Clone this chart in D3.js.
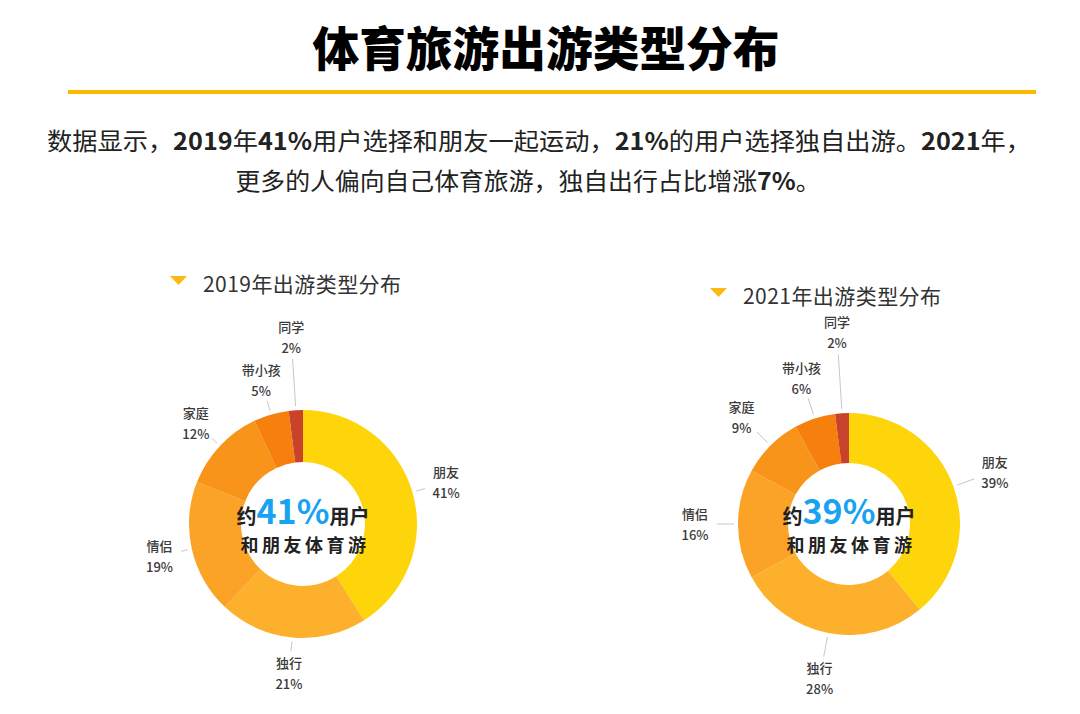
<!DOCTYPE html>
<html><head><meta charset="utf-8">
<script src="https://cdn.jsdelivr.net/npm/d3@7"></script>
<style>
html,body{margin:0;padding:0;background:#fff;}
svg{display:block;font-family:"Noto Sans CJK SC","Noto Sans",sans-serif;}
</style></head>
<body>
<svg id="chart" width="1080" height="714"></svg>
<script>
const categories = ["朋友","独行","情侣","家庭","带小孩","同学"];
const values2019 = [41,21,19,12,5,2];
const values2021 = [39,28,16,9,6,2];
const colors = ["#FED40B","#FDB02C","#FBA326","#F8941A","#F67F0E","#C8432A"];
const chartTitles = ["2019年出游类型分布","2021年出游类型分布"];
const centerPct = ["41%","39%"];

const svg = d3.select("#chart");

// Title
svg.append("text").attr("x",546).attr("y",66).attr("text-anchor","middle")
  .attr("font-size",47).attr("font-weight",900).attr("fill","#000")
  .attr("textLength",467).attr("lengthAdjust","spacingAndGlyphs")
  .text("体育旅游出游类型分布");
svg.append("rect").attr("x",68).attr("y",90).attr("width",968).attr("height",4).attr("fill","#FBBA00");

// Subtitle
function richLine(y, parts, len, x){
  const t = svg.append("text").attr("x",x).attr("y",y).attr("text-anchor","middle")
    .attr("font-size",24).attr("fill","#222");
  if(len) t.attr("textLength",len).attr("lengthAdjust","spacingAndGlyphs");
  parts.forEach(p=>{
    t.append("tspan").attr("font-weight",p[1]?700:400).text(p[0]);
  });
}
richLine(150,[["数据显示，",0],["2019",1],["年",0],["41%",1],["用户选择和朋友一起运动，",0],["21%",1],["的用户选择独自出游。",0],["2021",1],["年，",0]],984,539);
richLine(190,[["更多的人偏向自己体育旅游，独自出行占比增涨",0],["7%",1],["。",0]],585,528);

const charts = [
  {vals:values2019, cx:303, cy:524, r:114, ri:62, tx:173, ty:276, pct:centerPct[0], title:chartTitles[0], labR:[149,150,147,147,150,187]},
  {vals:values2021, cx:849, cy:524, r:111, ri:61, tx:713, ty:288, pct:centerPct[1], title:chartTitles[1], labR:[155,157,154,152,154,192]}
];

const pie = d3.pie().sort(null).value(d=>d);

charts.forEach(c=>{
  const g = svg.append("g").attr("transform",`translate(${c.cx},${c.cy})`);
  const arcs = pie(c.vals);
  const arc = d3.arc().innerRadius(c.ri).outerRadius(c.r);
  g.selectAll("path.slice").data(arcs).enter().append("path")
    .attr("d",arc).attr("fill",(d,i)=>colors[i]);

  arcs.forEach((d,i)=>{
    const a = (d.startAngle+d.endAngle)/2;
    const R = c.labR[i];
    const r1 = c.r+4, r2 = R-22;
    g.append("line")
      .attr("x1",r1*Math.sin(a)).attr("y1",-r1*Math.cos(a))
      .attr("x2",r2*Math.sin(a)).attr("y2",-r2*Math.cos(a))
      .attr("stroke","#c8c8c8").attr("stroke-width",1);
    const lx = R*Math.sin(a), ly = -R*Math.cos(a);
    g.append("text").attr("x",lx).attr("y",ly-5).attr("text-anchor","middle")
      .attr("font-size",13).attr("font-weight",500).attr("fill","#3a3a3a").text(categories[i]);
    g.append("text").attr("x",lx).attr("y",ly+16).attr("text-anchor","middle")
      .attr("font-size",13).attr("font-weight",500).attr("fill","#3a3a3a").text(c.vals[i]+"%");
  });

  // center text
  const t1 = g.append("text").attr("x",0).attr("y",0).attr("text-anchor","middle").attr("font-weight",700);
  t1.append("tspan").attr("font-size",20).attr("fill","#222").text("约");
  t1.append("tspan").attr("font-size",34).attr("fill","#17A2F2").text(c.pct);
  t1.append("tspan").attr("font-size",20).attr("fill","#222").text("用户");
  g.append("text").attr("x",2).attr("y",28).attr("text-anchor","middle").attr("font-weight",700)
    .attr("font-size",18).attr("letter-spacing",3.5).attr("fill","#222").text("和朋友体育游");

  // chart title
  const tri = d3.path();
  tri.moveTo(c.tx-3,c.ty); tri.lineTo(c.tx+14,c.ty); tri.lineTo(c.tx+5.5,c.ty+9); tri.closePath();
  svg.append("path").attr("d",tri.toString()).attr("fill","#FDB913");
  svg.append("text").attr("x",c.tx+30).attr("y",c.ty+16).attr("font-size",21).attr("fill","#333")
    .attr("textLength",198).attr("lengthAdjust","spacing").text(c.title);
});
</script>
</body></html>
